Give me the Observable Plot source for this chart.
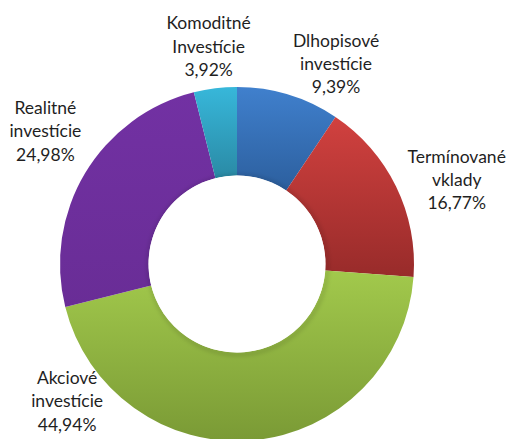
<!DOCTYPE html>
<html>
<head>
<meta charset="utf-8">
<script src="https://cdn.jsdelivr.net/npm/d3@7"></script>
<script src="https://cdn.jsdelivr.net/npm/@observablehq/plot@0.6"></script>
<style>
  html, body { margin: 0; padding: 0; background: #fff; }
  #chart svg { display: block; }
</style>
</head>
<body>
<div id="chart"></div>
<script>
// ---- data ----
const categories = ["Dlhopisové\ninvestície", "Termínované\nvklady", "Akciové\ninvestície", "Realitné\ninvestície", "Komoditné\nInvestície"];
const values = [9.39, 16.77, 44.94, 24.98, 3.92];
const valueLabels = ["9,39%", "16,77%", "44,94%", "24,98%", "3,92%"];

// ---- styles / layout ----
const gradTop = ["#4080cd", "#d1413f", "#a2c94c", "#7231a3", "#37b7da"];
const gradBottom = ["#2c5f9e", "#982b2a", "#7a9a35", "#692d96", "#2a8aa5"];
// label placement: angle (deg, clockwise from north) and distance (in outer radii)
const labelAngle = [26, 68.6, 231.5, 305, 352.5];
const labelDist = [1.27, 1.33, 1.23, 1.325, 1.25];
const innerRatio = 0.5;

const W = 510, H = 439, CX = 237, CY = 264, R = 177;

const pie = d3.pie().sort(null).value(d => d.value)(values.map((v, i) => ({value: v, i})));
const slices = pie.map(p => ({...p, i: p.data.i}));

const labels = categories.map((c, i) => {
  const a = labelAngle[i] * Math.PI / 180;
  return {
    text: c + "\n" + valueLabels[i],
    x: labelDist[i] * Math.sin(a),
    y: labelDist[i] * Math.cos(a)
  };
});

function donutMark(index, scales, channels, dimensions, context) {
  const cx = scales.x(0), cy = scales.y(0);
  const rOut = scales.x(1) - scales.x(0);
  const rIn = rOut * innerRatio;
  const g = d3.create("svg:g");
  const defs = g.append("defs");
  slices.forEach(s => {
    const lg = defs.append("linearGradient")
      .attr("id", "grad" + s.i)
      .attr("x1", 0).attr("y1", 0).attr("x2", 0).attr("y2", 1);
    lg.append("stop").attr("offset", "0%").attr("stop-color", gradTop[s.i]);
    lg.append("stop").attr("offset", "100%").attr("stop-color", gradBottom[s.i]);
  });
  const f = defs.append("filter").attr("id", "holeShadow")
    .attr("x", "-20%").attr("y", "-20%").attr("width", "140%").attr("height", "140%");
  f.append("feGaussianBlur").attr("stdDeviation", 2);
  const arc = d3.arc().innerRadius(rIn).outerRadius(rOut);
  g.append("g").attr("transform", `translate(${cx},${cy})`)
    .selectAll("path").data(slices).join("path")
    .attr("d", arc)
    .attr("fill", d => `url(#grad${d.i})`);
  // soft shadow at the hole edge
  g.append("circle").attr("cx", cx + 1).attr("cy", cy + 1).attr("r", rIn + 1)
    .attr("fill", "none").attr("stroke", "rgba(0,0,0,0.18)").attr("stroke-width", 2.5)
    .attr("filter", "url(#holeShadow)");
  g.append("circle").attr("cx", cx).attr("cy", cy).attr("r", rIn).attr("fill", "#fff");
  return g.node();
}

const chart = Plot.plot({
  width: W,
  height: H,
  margin: 0,
  x: {domain: [-CX / R, (W - CX) / R], axis: null},
  y: {domain: [-(H - CY) / R, CY / R], axis: null},
  style: {background: "#fff", overflow: "visible"},
  marks: [
    donutMark,
    Plot.text(labels, {
      x: "x", y: "y", text: "text",
      fontSize: 17.5, fontFamily: "Lato, 'Open Sans', sans-serif",
      lineHeight: 1.33, fill: "#1f1f1f", textAnchor: "middle", lineAnchor: "middle"
    })
  ]
});
document.getElementById("chart").appendChild(chart);
</script>
</body>
</html>
